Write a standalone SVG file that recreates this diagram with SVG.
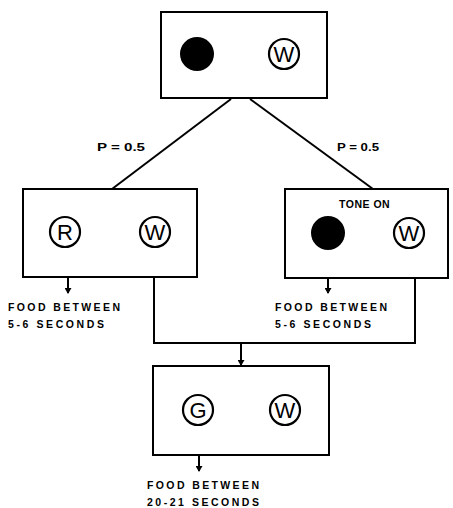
<svg xmlns="http://www.w3.org/2000/svg" width="453" height="508" viewBox="0 0 453 508">
<style>
.box{fill:#fff;stroke:#000;stroke-width:2}
.ring{fill:none;stroke:#000;stroke-width:2.2}
.dot{fill:#000}
.let{font-family:"Liberation Sans",Arial,sans-serif;font-size:22px;text-anchor:middle}
.lbl{font-family:"Liberation Sans",Arial,sans-serif;font-size:10.5px;font-weight:bold}
.ln{stroke:#000;stroke-width:2;fill:none}
</style>
<defs>
<marker id="ah" viewBox="0 0 7 6" refX="3.5" refY="5" markerWidth="7" markerHeight="6" markerUnits="userSpaceOnUse" orient="0">
<path d="M0,0 L7,0 L3.5,6 Z" fill="#000"/>
</marker>
</defs>
<rect width="453" height="508" fill="#fff"/>
<g id="connectors">
<line class="ln" x1="231" y1="99" x2="112" y2="189"/>
<line class="ln" x1="250" y1="99" x2="373" y2="189"/>
<line class="ln" x1="68" y1="277" x2="68" y2="293" marker-end="url(#ah)"/>
<line class="ln" x1="328" y1="278" x2="328" y2="293" marker-end="url(#ah)"/>
<polyline class="ln" points="154,277 154,343 415,343 415,278"/>
<line class="ln" x1="241" y1="343" x2="241" y2="365" marker-end="url(#ah)"/>
<line class="ln" x1="199" y1="455" x2="199" y2="471" marker-end="url(#ah)"/>
<text class="lbl" x="97" y="151" textLength="48" lengthAdjust="spacingAndGlyphs">P = 0.5</text>
<text class="lbl" x="337" y="151" textLength="42" lengthAdjust="spacingAndGlyphs">P = 0.5</text>
</g>
<g id="top">
<rect class="box" x="161" y="12" width="166" height="86"/>
<circle class="dot" cx="197" cy="54" r="17"/>
<circle class="ring" cx="284" cy="54" r="15"/>
<text class="let" x="284" y="62">W</text>
</g>
<g id="left">
<rect class="box" x="23" y="189" width="174" height="88"/>
<circle class="ring" cx="65" cy="232" r="15"/>
<text class="let" x="65" y="240">R</text>
<circle class="ring" cx="155" cy="232" r="15"/>
<text class="let" x="155" y="240">W</text>
<text class="lbl" x="8" y="311" textLength="112" lengthAdjust="spacing">FOOD  BETWEEN</text>
<text class="lbl" x="8" y="328" textLength="96" lengthAdjust="spacing">5-6 SECONDS</text>
</g>
<g id="right">
<rect class="box" x="285" y="189" width="163" height="89"/>
<text class="lbl" x="339" y="208" letter-spacing="0.5">TONE  ON</text>
<circle class="dot" cx="328" cy="233" r="17"/>
<circle class="ring" cx="409" cy="233" r="15"/>
<text class="let" x="409" y="241">W</text>
<text class="lbl" x="275" y="311" textLength="112" lengthAdjust="spacing">FOOD  BETWEEN</text>
<text class="lbl" x="275" y="328" textLength="96" lengthAdjust="spacing">5-6 SECONDS</text>
</g>
<g id="bottom">
<rect class="box" x="153" y="366" width="176" height="89"/>
<circle class="ring" cx="198" cy="410" r="15"/>
<text class="let" x="198" y="418">G</text>
<circle class="ring" cx="285" cy="410" r="15"/>
<text class="let" x="285" y="418">W</text>
<text class="lbl" x="147" y="489" textLength="112" lengthAdjust="spacing">FOOD  BETWEEN</text>
<text class="lbl" x="147" y="506" textLength="112" lengthAdjust="spacing">20-21 SECONDS</text>
</g>
</svg>
